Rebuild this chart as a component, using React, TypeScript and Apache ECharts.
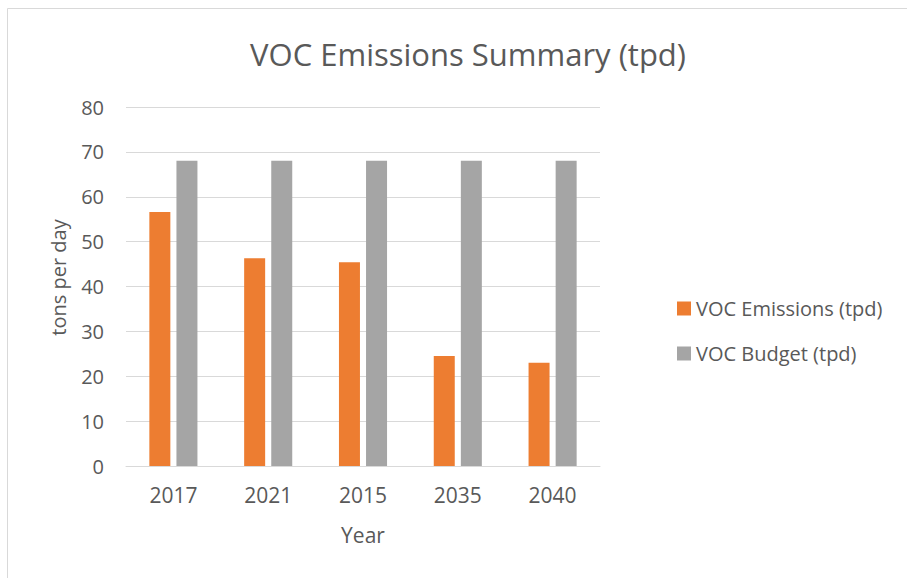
import React, { useEffect, useRef } from "react";
import * as echarts from "echarts";

const categories = ["2017", "2021", "2015", "2035", "2040"];
const emissions = [56.6, 46.3, 45.4, 24.5, 23.0];
const budget = [68, 68, 68, 68, 68];
const seriesNames = ["VOC Emissions (tpd)", "VOC Budget (tpd)"];
const yTicks = { min: 0, max: 80, interval: 10 };

const FONT = "'Open Sans', 'Noto Sans', sans-serif";
const TEXT = "#595959";

export default function App() {
  const ref = useRef<HTMLDivElement>(null);
  useEffect(() => {
    if (!ref.current) return;
    const chart = echarts.init(ref.current, null, { renderer: "svg" });
    chart.setOption({
      animation: false,
      backgroundColor: "#ffffff",
      textStyle: { fontFamily: FONT, color: TEXT },
      title: {
        text: "VOC Emissions Summary (tpd)",
        left: 463,
        textAlign: "center",
        top: 33,
        textStyle: { fontFamily: FONT, fontSize: 31, fontWeight: "normal", color: TEXT },
      },
      graphic: [
        {
          type: "rect",
          shape: { x: 7.5, y: 8.5, width: 1000, height: 1000 },
          style: { fill: "none", stroke: "#d9d9d9", lineWidth: 1 },
          silent: true,
        },
      ],
      legend: {
        orient: "vertical",
        left: 677,
        top: 298,
        padding: 0,
        itemWidth: 14,
        itemHeight: 14,
        itemGap: 24,
        icon: "rect",
        textStyle: { fontFamily: FONT, fontSize: 20, lineHeight: 21, color: TEXT },
        data: seriesNames,
      },
      grid: { left: 126, right: 307, top: 107, bottom: 112, containLabel: false },
      xAxis: {
        type: "category",
        data: categories,
        name: "Year",
        nameLocation: "middle",
        nameGap: 58,
        nameTextStyle: { fontFamily: FONT, fontSize: 21, color: TEXT },
        axisLine: { lineStyle: { color: "#d9d9d9" } },
        axisTick: { show: false },
        axisLabel: { fontFamily: FONT, fontSize: 21, color: TEXT, margin: 18 },
      },
      yAxis: {
        type: "value",
        min: yTicks.min,
        max: yTicks.max,
        interval: yTicks.interval,
        name: "tons per day",
        nameLocation: "middle",
        nameGap: 58,
        nameRotate: 90,
        nameTextStyle: { fontFamily: FONT, fontSize: 20, color: TEXT, padding: [0, 0, 0, 18] },
        axisLine: { show: false },
        axisTick: { show: false },
        splitLine: { lineStyle: { color: "#d9d9d9", width: 1 } },
        axisLabel: { fontFamily: FONT, fontSize: 20, color: TEXT, margin: 22 },
      },
      series: [
        {
          name: seriesNames[0],
          type: "bar",
          data: emissions,
          barWidth: 21,
          barGap: "29%",
          itemStyle: { color: "#ED7D31" },
        },
        {
          name: seriesNames[1],
          type: "bar",
          data: budget,
          barWidth: 21,
          barGap: "29%",
          itemStyle: { color: "#A5A5A5" },
        },
      ],
    });
    return () => chart.dispose();
  }, []);
  return (
    <div
      ref={ref}
      style={{ position: "absolute", left: 0, top: 0, width: 907, height: 578 }}
    />
  );
}
